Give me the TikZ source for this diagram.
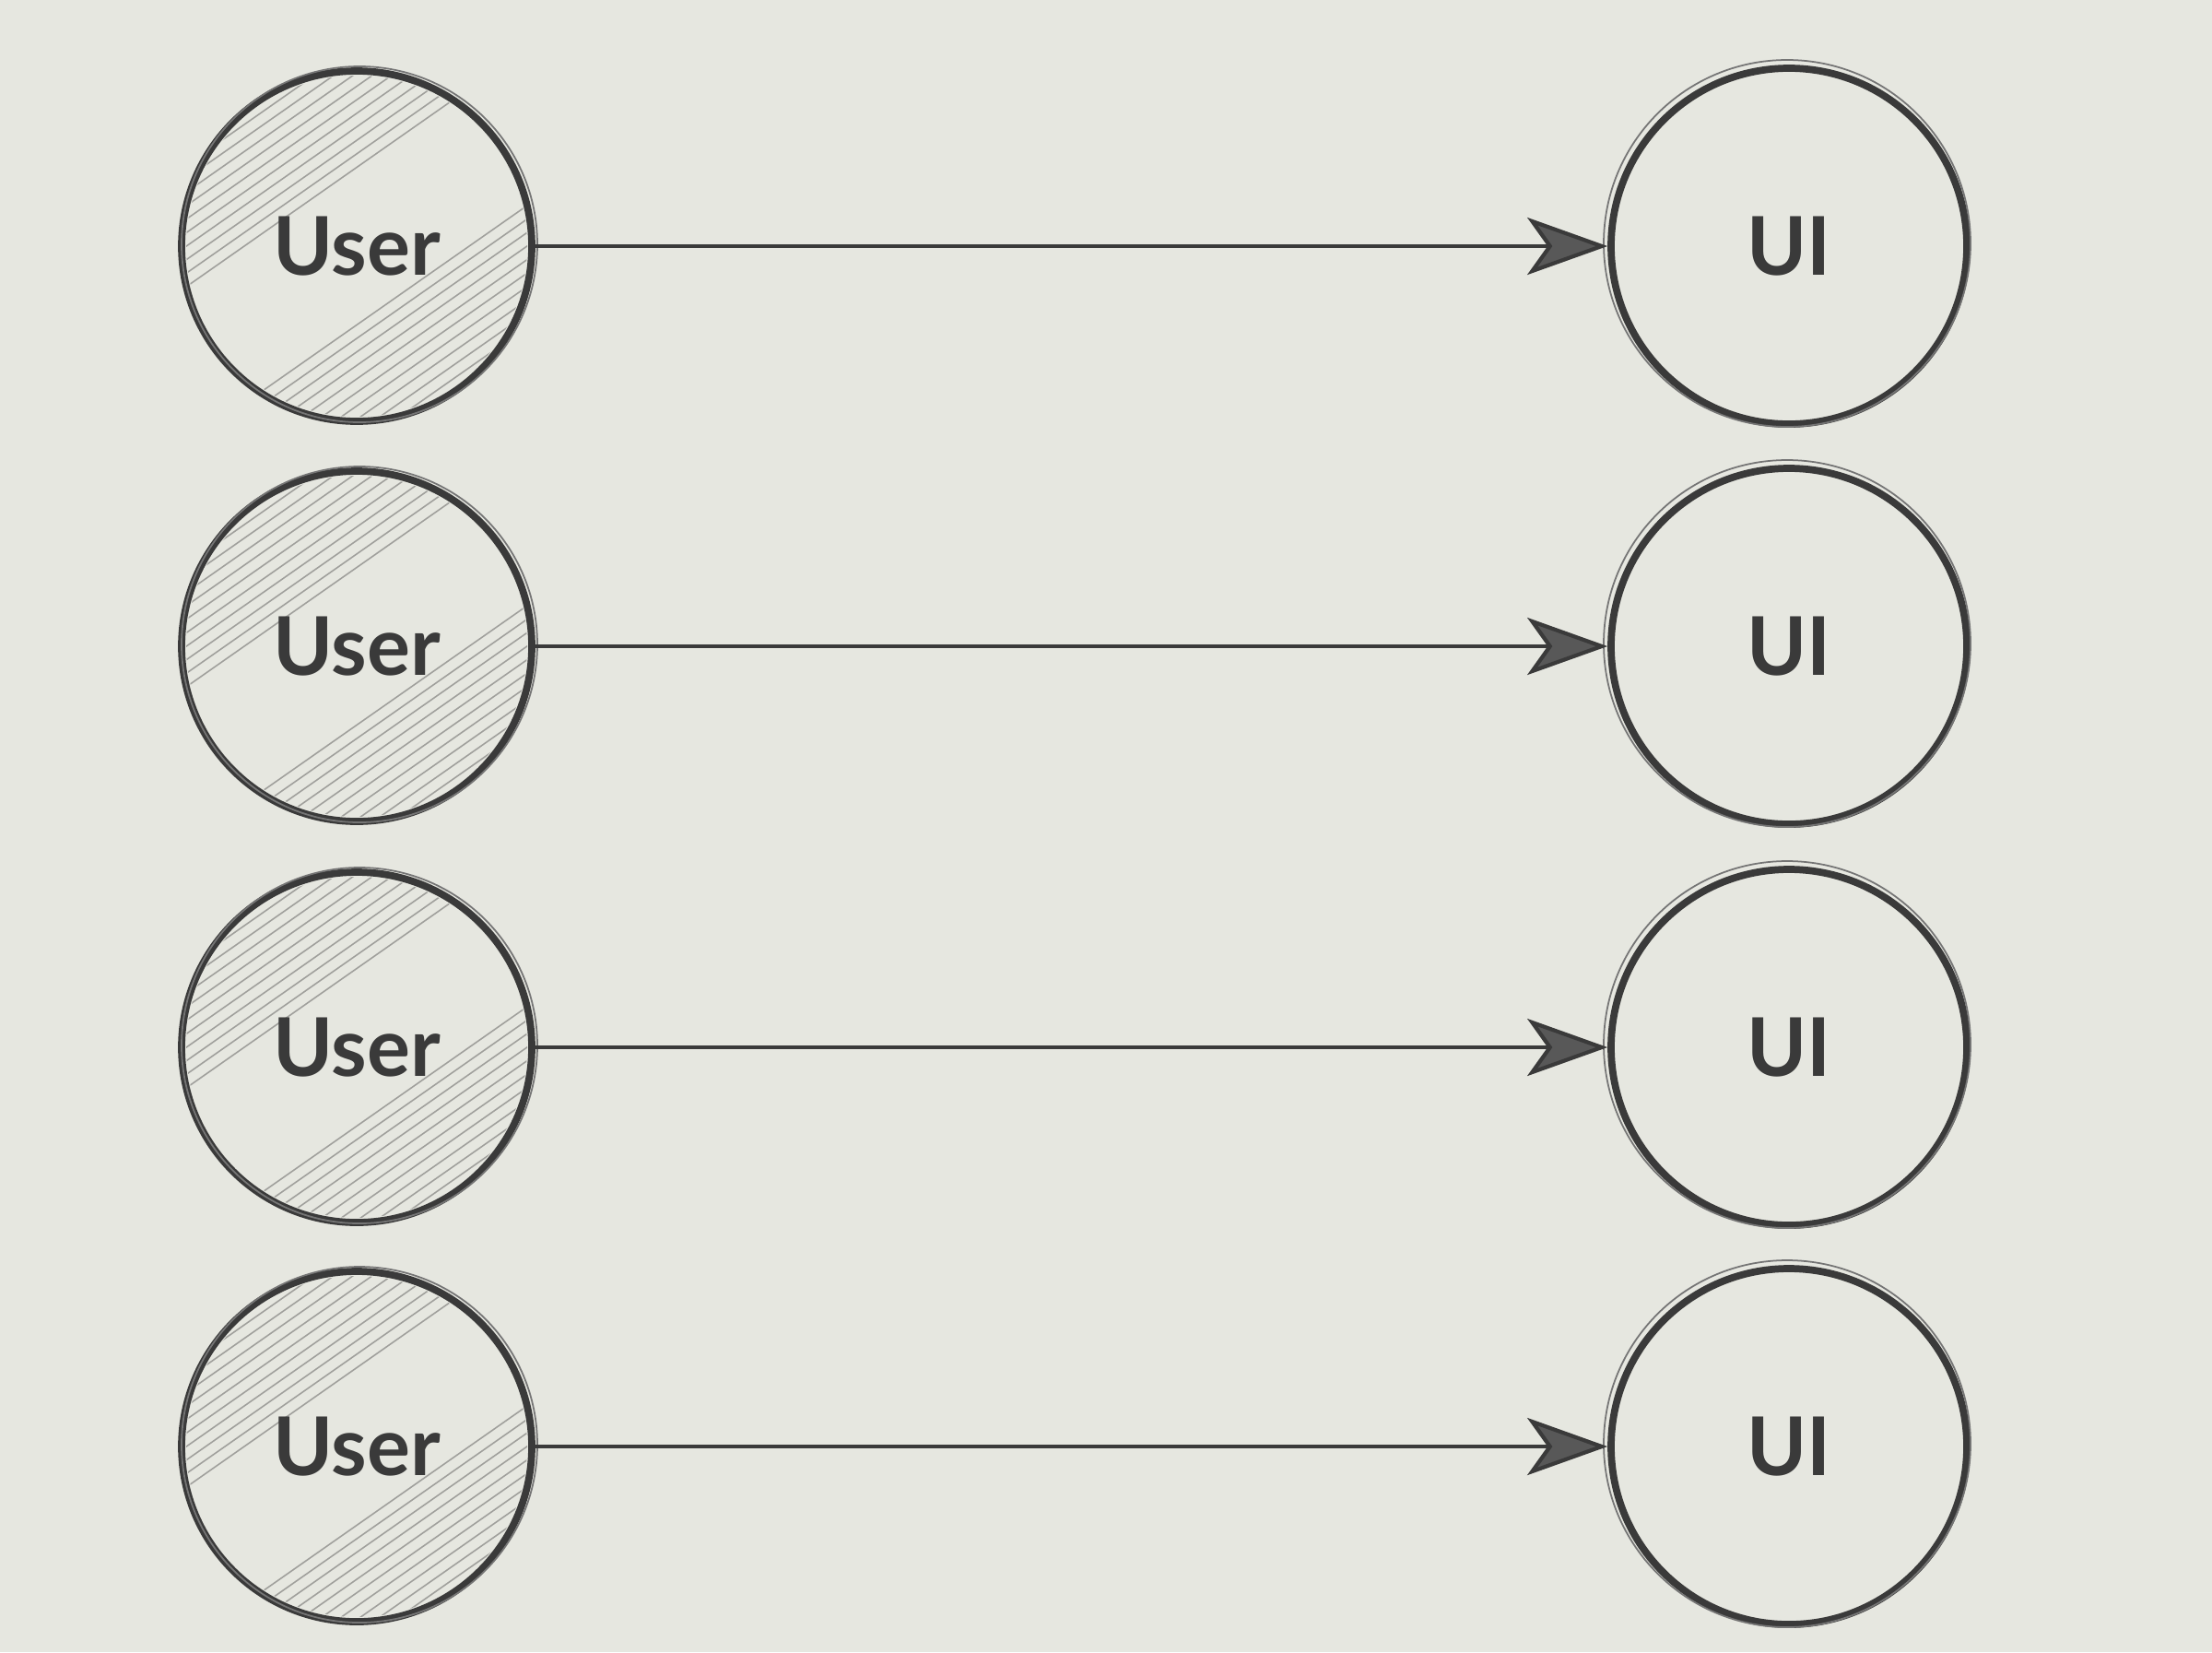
\documentclass[tikz,border=0pt]{standalone}
\usepackage{fontspec}
\setmainfont{Lato}
\usetikzlibrary{arrows.meta}
\definecolor{paper}{RGB}{230,231,224}
\definecolor{pencil}{RGB}{58,58,58}
\definecolor{hatch}{RGB}{160,160,156}
\tikzset{
  usernode/.style={circle, draw=pencil, line width=2.2pt, minimum size=3.8cm, inner sep=0pt,
    font=\bfseries\fontsize{25}{28}\selectfont, text=pencil},
  uinode/.style={circle, draw=pencil, line width=2.2pt, minimum size=3.86cm, inner sep=0pt,
    font=\bfseries\fontsize{25}{28}\selectfont, text=pencil},
  flow/.style={draw=pencil, line width=1.2pt,
    -{Stealth[length=0.87cm, width=0.62cm, inset=0.22cm, fill=pencil!85]}},
  sketch/.style={draw=pencil!70, line width=0.5pt},
  hatchline/.style={draw=hatch, line width=0.45pt}
}
\begin{document}
\begin{tikzpicture}
\fill[paper] (0,0) rectangle (24,-17.92);
\useasboundingbox (0,0) rectangle (24,-17.92);
\foreach \k/\y in {1/-2.67, 2/-7.01, 3/-11.36, 4/-15.69} {
  % hatching in the user circle
  \begin{scope}
    \clip (3.87,\y) circle (1.85);
    \begin{scope}[shift={(3.87,\y)}, rotate=35]
      \foreach \d in {0.7,0.82,...,1.85} {
        \draw[hatchline] (-2,\d) -- (2,\d);
        \draw[hatchline] (-2,-\d) -- (2,-\d);
      }
    \end{scope}
  \end{scope}
  \node[usernode] (u\k) at (3.87,\y) {User};
  \node[uinode] (i\k) at (19.41,\y) {UI};
  % sketchy second strokes
  \draw[sketch] ([shift={(0.03,0.02)}]u\k.center) circle (1.93);
  \draw[sketch] ([shift={(-0.02,0.03)}]i\k.center) circle (1.99);
  \draw[flow] (u\k) -- (i\k);
}
\end{tikzpicture}
\end{document}
